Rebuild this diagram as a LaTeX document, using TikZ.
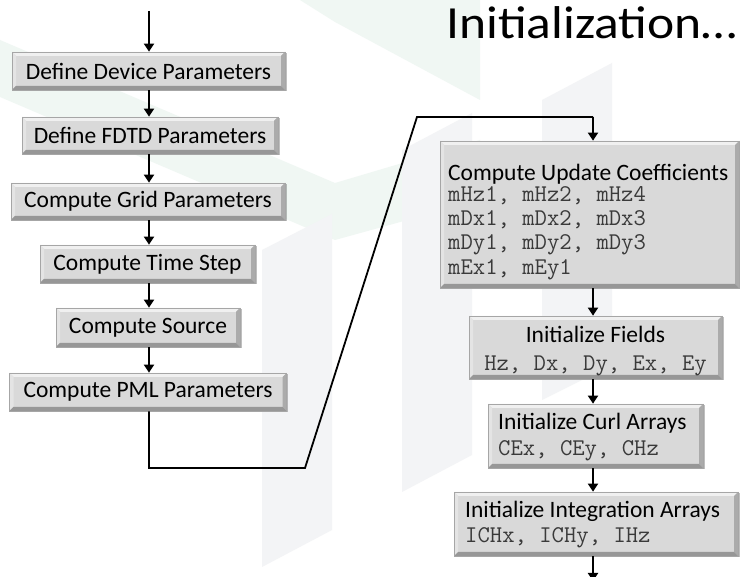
\documentclass[tikz,border=0pt]{standalone}
\usepackage{fontspec}
\setmainfont{Carlito}
\newfontfamily\titlefont[FakeStretch=1.12]{Carlito}
\usetikzlibrary{arrows.meta,calc,shadows}
\definecolor{boxfill}{HTML}{D9D9D9}
\definecolor{boxline}{HTML}{A6A6A6}
\definecolor{bevlight}{HTML}{F0F0F0}
\definecolor{bevside}{HTML}{E4E4E4}
\definecolor{bevright}{HTML}{ABABAB}
\definecolor{bevdark}{HTML}{979797}
\definecolor{monotext}{HTML}{3A3A3A}
\definecolor{wmgreen}{HTML}{F0F7F3}
\definecolor{wmgray}{HTML}{F3F4F6}
\tikzset{
  bevelbox/.style={rectangle, inner sep=0pt, fill=boxfill, draw=boxline, line width=0.6pt,
    font=\fontsize{23.5}{28}\selectfont,
    drop shadow={shadow xshift=1.5pt, shadow yshift=-1.5pt, fill=black, opacity=0.25},
    path picture={
      \fill[bevlight] (path picture bounding box.north west) -- (path picture bounding box.north east)
        -- ([shift={(-4pt,-4pt)}]path picture bounding box.north east)
        -- ([shift={(4pt,-4pt)}]path picture bounding box.north west) -- cycle;
      \fill[bevside] (path picture bounding box.north west) -- ([shift={(4pt,-4pt)}]path picture bounding box.north west)
        -- ([shift={(4pt,4pt)}]path picture bounding box.south west)
        -- (path picture bounding box.south west) -- cycle;
      \fill[bevright] (path picture bounding box.north east) -- ([shift={(-4pt,-4pt)}]path picture bounding box.north east)
        -- ([shift={(-4pt,4pt)}]path picture bounding box.south east)
        -- (path picture bounding box.south east) -- cycle;
      \fill[bevdark] (path picture bounding box.south west) -- ([shift={(4pt,4pt)}]path picture bounding box.south west)
        -- ([shift={(-4pt,4pt)}]path picture bounding box.south east)
        -- (path picture bounding box.south east) -- cycle;
    }},
  caltext/.style={inner sep=0pt, font=\fontsize{23.5}{28}\selectfont},
  monotext/.style={inner sep=0pt, text=monotext, font=\ttfamily\fontsize{24}{24.5}\selectfont},
  flow/.style={line width=1.8pt, -{Triangle[width=10pt,length=8pt]}},
  link/.style={line width=1.8pt, line join=miter},
}
\begin{document}
\begin{tikzpicture}[x=1pt,y=-1pt]
\useasboundingbox (0,0) rectangle (740,577);
\fill[white] (0,0) rectangle (740,577);

% faint logo in the background
\fill[wmgreen] (0,40) -- (0,97) -- (335,240) -- (335,183) -- cycle;
\fill[wmgreen] (250,0) -- (480,0) -- (480,100) -- (335,22) -- (300,0) -- cycle;
\fill[wmgreen] (335,183) -- (480,140) -- (480,200) -- (335,240) -- cycle;
\fill[wmgray] (262,250) -- (332,214) -- (332,530) -- (262,567) -- cycle;
\fill[wmgray] (402,150) -- (472,113) -- (472,455) -- (402,492) -- cycle;
\fill[wmgray] (542,100) -- (612,63) -- (612,365) -- (542,400) -- cycle;

% heading
\node[inner sep=0pt, anchor=base west, font=\titlefont\fontsize{46}{50}\selectfont] (head) at (446,39) {Initialization…};

% left column
\node[bevelbox, minimum width=273pt, minimum height=38pt] (l1) at (148.5,71)  {Define Device Parameters};
\node[bevelbox, minimum width=256pt, minimum height=37pt] (l2) at (150,135.5) {Define FDTD Parameters};
\node[bevelbox, minimum width=274pt, minimum height=37pt] (l3) at (148,201.5) {Compute Grid Parameters};
\node[bevelbox, minimum width=215pt, minimum height=38pt] (l4) at (147.5,264) {Compute Time Step};
\node[bevelbox, minimum width=184pt, minimum height=39pt] (l5) at (148,327.5) {Compute Source};
\node[bevelbox, minimum width=277pt, minimum height=38pt] (l6) at (148,392) {Compute PML Parameters};

% right column
\node[bevelbox, minimum width=299pt, minimum height=147pt] (r1) at (589.5,214.5) {};
\node[bevelbox, minimum width=253pt, minimum height=63pt] (r2) at (595.5,347.5) {};
\node[bevelbox, minimum width=215pt, minimum height=64pt] (r3) at (595.5,436) {};
\node[bevelbox, minimum width=284pt, minimum height=64pt] (r4) at (596,524) {};

\node[caltext, anchor=base west] (r1a) at (448,181) {Compute Update Coefficients};
\node[monotext, anchor=base west] (r1b) at (448,202) {mHz1, mHz2, mHz4};
\node[monotext, anchor=base west] (r1c) at (448,226) {mDx1, mDx2, mDx3};
\node[monotext, anchor=base west] (r1d) at (448,250) {mDy1, mDy2, mDy3};
\node[monotext, anchor=base west] (r1e) at (448,274.5) {mEx1, mEy1};

\node[caltext, anchor=base] (r2a) at (595.5,343) {Initialize Fields};
\node[monotext, anchor=base] (r2b) at (595.5,371) {Hz, Dx, Dy, Ex, Ey};

\node[caltext, anchor=base west] (r3a) at (498,430) {Initialize Curl Arrays};
\node[monotext, anchor=base west] (r3b) at (498,456) {CEx, CEy, CHz};

\node[caltext, anchor=base west] (r4a) at (465,518) {Initialize Integration Arrays};
\node[monotext, anchor=base west] (r4b) at (465,543) {ICHx, ICHy, IHz};

% connectors
\coordinate (start) at (149,11);
\coordinate (lx) at (149,0);
\coordinate (rx) at (593,0);
\coordinate (c1) at (149,468);
\coordinate (c2) at (305,468);
\coordinate (c3) at (417,117);
\coordinate (c4) at (593,117);
\coordinate (finish) at (593,581);

\draw[flow] (start) -- (start |- l1.north);
\draw[flow] (l1.south -| lx) -- (l2.north -| lx);
\draw[flow] (l2.south -| lx) -- (l3.north -| lx);
\draw[flow] (l3.south -| lx) -- (l4.north -| lx);
\draw[flow] (l4.south -| lx) -- (l5.north -| lx);
\draw[flow] (l5.south -| lx) -- (l6.north -| lx);
\draw[link] (l6.south -| lx) -- (c1) -- (c2) -- (c3) -- (c4);
\draw[flow] (c4) -- (c4 |- r1.north);
\draw[flow] (r1.south -| rx) -- (r2.north -| rx);
\draw[flow] (r2.south -| rx) -- (r3.north -| rx);
\draw[flow] (r3.south -| rx) -- (r4.north -| rx);
\draw[flow] (r4.south -| rx) -- (finish);
\end{tikzpicture}
\end{document}
